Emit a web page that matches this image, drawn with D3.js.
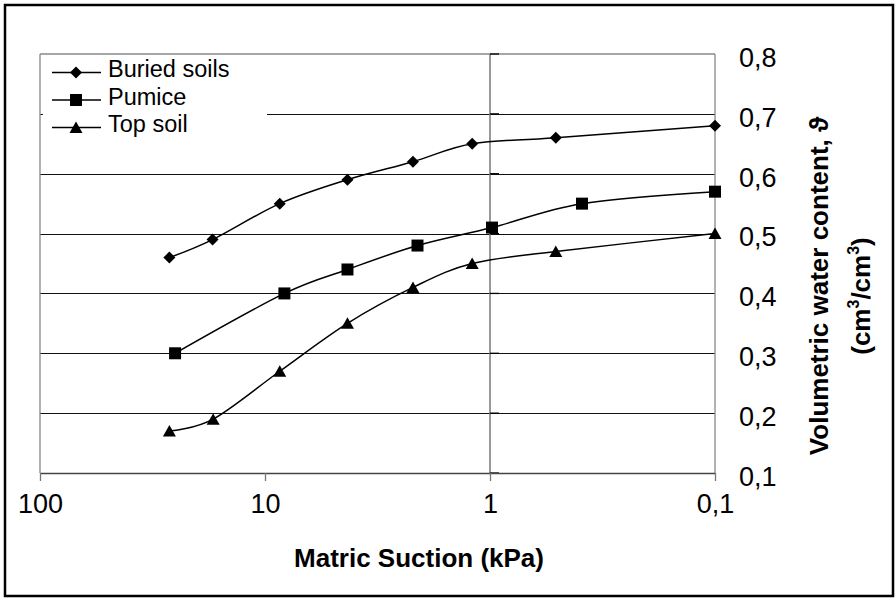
<!DOCTYPE html>
<html>
<head>
<meta charset="utf-8">
<script src="https://cdn.jsdelivr.net/npm/d3@7/dist/d3.min.js"></script>
<style>
  html, body { margin: 0; padding: 0; background: #fff; }
  svg { display: block; }
  text { font-family: "Liberation Sans", Arial, sans-serif; fill: #000; }
</style>
</head>
<body>
<svg id="chart" width="896" height="600"></svg>
<script>
// ---- data ----
const seriesNames = ["Buried soils", "Pumice", "Top soil"];
const buriedSuction = [26.6, 17.1, 8.6, 4.3, 2.2, 1.2, 0.51, 0.1];
const buriedTheta   = [0.46, 0.49, 0.55, 0.59, 0.62, 0.65, 0.66, 0.68];
const pumiceSuction = [25.1, 8.2, 4.3, 2.1, 0.98, 0.39, 0.1];
const pumiceTheta   = [0.30, 0.40, 0.44, 0.48, 0.51, 0.55, 0.57];
const topSuction    = [26.6, 17.0, 8.6, 4.3, 2.2, 1.2, 0.51, 0.1];
const topTheta      = [0.17, 0.19, 0.27, 0.35, 0.41, 0.45, 0.47, 0.50];
const xTicks = [100, 10, 1, 0.1];
const xTickLabels = ["100", "10", "1", "0,1"];
const yTicks = [0.1, 0.2, 0.3, 0.4, 0.5, 0.6, 0.7, 0.8];
const yTickLabels = ["0,1", "0,2", "0,3", "0,4", "0,5", "0,6", "0,7", "0,8"];

const svg = d3.select("#chart");
const L = 40, R = 715, T = 54, B = 473;
const x = d3.scaleLog().domain([100, 0.1]).range([L, R]);
const y = d3.scaleLinear().domain([0.1, 0.8]).range([B, T]);

// outer border
svg.append("rect").attr("x", 5).attr("y", 5).attr("width", 888).attr("height", 591)
  .attr("fill", "#fff").attr("stroke", "#000").attr("stroke-width", 2.5);

// horizontal gridlines
svg.append("g").selectAll("line").data(yTicks.filter(v => v > 0.1 && v < 0.8)).join("line")
  .attr("x1", L).attr("x2", R)
  .attr("y1", d => Math.round(y(d)) + 0.5).attr("y2", d => Math.round(y(d)) + 0.5)
  .attr("stroke", "#111").attr("stroke-width", 1);

// plot frame (top, left, right)
const frame = svg.append("g").attr("stroke", "#888").attr("stroke-width", 1.3).attr("fill", "none");
frame.append("line").attr("x1", L).attr("x2", R).attr("y1", T).attr("y2", T);
frame.append("line").attr("x1", L).attr("x2", L).attr("y1", T).attr("y2", B);
frame.append("line").attr("x1", R).attr("x2", R).attr("y1", T).attr("y2", B);

// value axis line crossing at 1
svg.append("line").attr("x1", x(1)).attr("x2", x(1)).attr("y1", T).attr("y2", B)
  .attr("stroke", "#777").attr("stroke-width", 1.5);
svg.append("g").selectAll("line").data(yTicks).join("line")
  .attr("x1", x(1)).attr("x2", x(1) + 9)
  .attr("y1", d => y(d)).attr("y2", d => y(d))
  .attr("stroke", "#000").attr("stroke-width", 1.3);

// x axis via d3
const xAxis = d3.axisBottom(x).tickValues(xTicks).tickFormat((d, i) => xTickLabels[i]).tickSize(8).tickSizeOuter(0).tickPadding(13);
const gx = svg.append("g").attr("transform", `translate(0,${B})`).call(xAxis);
gx.select(".domain").attr("stroke", "#444").attr("stroke-width", 1.6);
gx.selectAll(".tick line").attr("stroke", "#777").attr("stroke-width", 1.3);
gx.selectAll(".tick text").attr("font-size", 27).attr("font-family", "Liberation Sans, Arial, sans-serif").attr("fill", "#000")
  .attr("dy", "0.71em");

// y axis labels (right side)
const yAxis = d3.axisRight(y).tickValues(yTicks).tickFormat((d, i) => yTickLabels[i]).tickSize(0).tickPadding(24);
const gy = svg.append("g").attr("transform", `translate(${R},0)`).call(yAxis);
gy.select(".domain").remove();
gy.selectAll(".tick text").attr("font-size", 27).attr("font-family", "Liberation Sans, Arial, sans-serif").attr("fill", "#000")
  .attr("dy", "0.46em");

// legend box
svg.append("rect").attr("x", 43).attr("y", 56).attr("width", 224).attr("height", 92).attr("fill", "#fff");

// markers
function markerPath(type) {
  if (type === 0) return "M0,-6L6,0L0,6L-6,0Z";
  if (type === 1) return "M-6,-6H6V6H-6Z";
  return "M0,-6L6.5,5.5H-6.5Z";
}

const series = [
  { name: seriesNames[0], xs: buriedSuction, ys: buriedTheta },
  { name: seriesNames[1], xs: pumiceSuction, ys: pumiceTheta },
  { name: seriesNames[2], xs: topSuction, ys: topTheta }
];

const line = d3.line().x(d => x(d[0])).y(d => y(d[1])).curve(d3.curveCatmullRom.alpha(0));

series.forEach((s, i) => {
  const pts = s.xs.map((v, j) => [v, s.ys[j]]);
  svg.append("path").datum(pts).attr("d", line)
    .attr("fill", "none").attr("stroke", "#000").attr("stroke-width", 1.5);
  svg.append("g").selectAll("path").data(pts).join("path")
    .attr("d", markerPath(i))
    .attr("transform", d => `translate(${x(d[0])},${y(d[1])})`)
    .attr("fill", "#000");
});

// legend entries
const legRows = [72.5, 100, 127.5];
series.forEach((s, i) => {
  const g = svg.append("g").attr("transform", `translate(0,${legRows[i]})`);
  g.append("line").attr("x1", 52).attr("x2", 101).attr("y1", 0).attr("y2", 0)
    .attr("stroke", "#000").attr("stroke-width", 1.5);
  g.append("path").attr("d", markerPath(i)).attr("transform", "translate(76,0)").attr("fill", "#000");
  g.append("text").attr("x", 108).attr("y", 4.5).attr("font-size", 23.5).text(s.name);
});

// axis titles
svg.append("text").attr("x", 419).attr("y", 567).attr("text-anchor", "middle")
  .attr("font-size", 26).attr("font-weight", "bold").text("Matric Suction (kPa)");

svg.append("text").attr("transform", "translate(828,286) rotate(-90)").attr("text-anchor", "middle")
  .attr("font-size", 26).attr("font-weight", "bold").text("Volumetric water content, \u03D1");

const t2 = svg.append("text").attr("transform", "translate(870,296) rotate(-90)").attr("text-anchor", "middle")
  .attr("font-size", 26).attr("font-weight", "bold");
t2.append("tspan").text("(cm");
t2.append("tspan").attr("font-size", 16).attr("dy", -11).text("3");
t2.append("tspan").attr("dy", 11).text("/cm");
t2.append("tspan").attr("font-size", 16).attr("dy", -11).text("3");
t2.append("tspan").attr("dy", 11).text(")");
</script>
</body>
</html>
